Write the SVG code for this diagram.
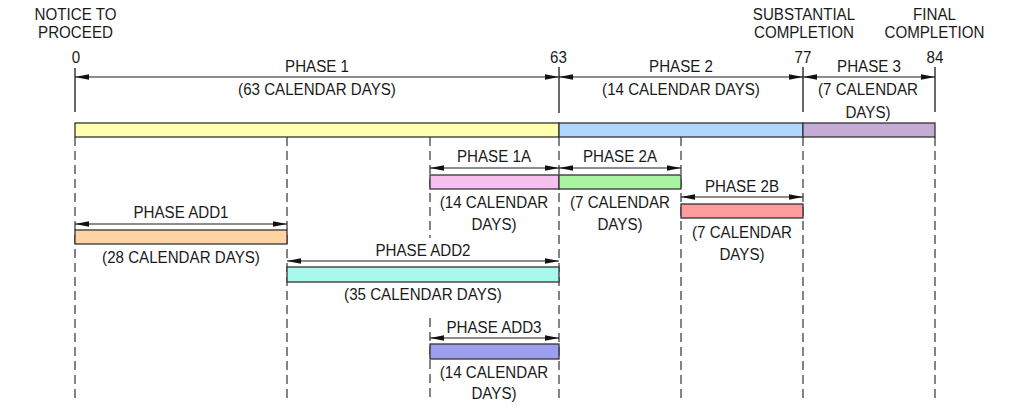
<svg xmlns="http://www.w3.org/2000/svg" width="1014" height="413" viewBox="0 0 1014 413">
<style>
text{font-family:"Liberation Sans",Arial,sans-serif;font-size:17.4px;fill:#1a1a1a;text-anchor:middle;transform-box:fill-box;transform-origin:center;transform:scaleX(0.87)}
.bar{stroke:#333;stroke-width:1.3}
.dim{stroke:#1a1a1a;stroke-width:1;fill:none;marker-start:url(#ah);marker-end:url(#ah)}
.ext{stroke:#1a1a1a;stroke-width:1.3}
.dash{stroke:#333;stroke-width:1.2;stroke-dasharray:9,5;fill:none}
</style>
<defs>
<marker id="ah" markerUnits="userSpaceOnUse" markerWidth="15" markerHeight="7" refX="14" refY="3.5" orient="auto-start-reverse">
<path d="M0,0.8 L14,3.5 L0,6.2 z" fill="#111"/>
</marker>
</defs>
<g id="guides">
<path class="dash" d="M75,137V401M287,137V401M430,137V238M430,318V401M559,137V401M681,137V401M803,137V401M935,137V401"/>
</g>
<g id="milestones">
<text x="75.5" y="20.5">NOTICE TO</text><text x="75.5" y="38">PROCEED</text>
<text x="76" y="63">0</text>
<text x="558.5" y="63">63</text>
<text x="803" y="63">77</text>
<text x="935" y="63">84</text>
<text x="804" y="20.3">SUBSTANTIAL</text><text x="804" y="38">COMPLETION</text>
<text x="934.5" y="20.3">FINAL</text><text x="934.5" y="38">COMPLETION</text>
<path class="ext" d="M75,68V112M559,67V113M803,67V112M935,67V112"/>
</g>
<g id="connectors">
<path class="dim" d="M75,77H559"/>
<path class="dim" d="M559,77H803"/>
<path class="dim" d="M803,77H935"/>
<path class="dim" d="M430,168H559"/>
<path class="dim" d="M559,168H681"/>
<path class="dim" d="M681,197H803"/>
<path class="dim" d="M75,224H287"/>
<path class="dim" d="M287,261H559"/>
<path class="dim" d="M430,338H559"/>
</g>
<g id="phase1">
<rect class="bar" x="75" y="123" width="484" height="14" fill="#FFFFB0"/>
<text x="317" y="72.5">PHASE 1</text><text x="317" y="95.5">(63 CALENDAR DAYS)</text>
</g>
<g id="phase2">
<rect class="bar" x="559" y="123" width="244" height="14" fill="#B0D8FF"/>
<text x="681" y="72.5">PHASE 2</text><text x="681" y="95.5">(14 CALENDAR DAYS)</text>
</g>
<g id="phase3">
<rect class="bar" x="803" y="123" width="132" height="14" fill="#C4ACD4"/>
<text x="869" y="72.5">PHASE 3</text><text x="868" y="95.5">(7 CALENDAR</text><text x="868" y="118">DAYS)</text>
</g>
<g id="phase1a">
<rect class="bar" x="430" y="175" width="129" height="14" fill="#F8C0F0"/>
<text x="494" y="162">PHASE 1A</text><text x="494" y="208">(14 CALENDAR</text><text x="494" y="230">DAYS)</text>
</g>
<g id="phase2a">
<rect class="bar" x="559" y="175" width="122" height="14" fill="#A8F4A0"/>
<text x="620" y="162">PHASE 2A</text><text x="620" y="208">(7 CALENDAR</text><text x="620" y="230">DAYS)</text>
</g>
<g id="phase2b">
<rect class="bar" x="681" y="204" width="122" height="14" fill="#FF9C9C"/>
<text x="742" y="192">PHASE 2B</text><text x="742" y="238">(7 CALENDAR</text><text x="742" y="260">DAYS)</text>
</g>
<g id="phaseadd1">
<rect class="bar" x="75" y="230" width="212" height="14" fill="#FFD4A4"/>
<text x="181" y="218">PHASE ADD1</text><text x="181" y="263">(28 CALENDAR DAYS)</text>
</g>
<g id="phaseadd2">
<rect class="bar" x="287" y="267" width="272" height="15" fill="#A8F8EC"/>
<text x="423" y="256">PHASE ADD2</text><text x="423" y="300">(35 CALENDAR DAYS)</text>
</g>
<g id="phaseadd3">
<rect class="bar" x="430" y="344" width="129" height="15" fill="#9CA0EC"/>
<text x="494" y="333">PHASE ADD3</text><text x="494" y="378">(14 CALENDAR</text><text x="494" y="399">DAYS)</text>
</g>
</svg>
